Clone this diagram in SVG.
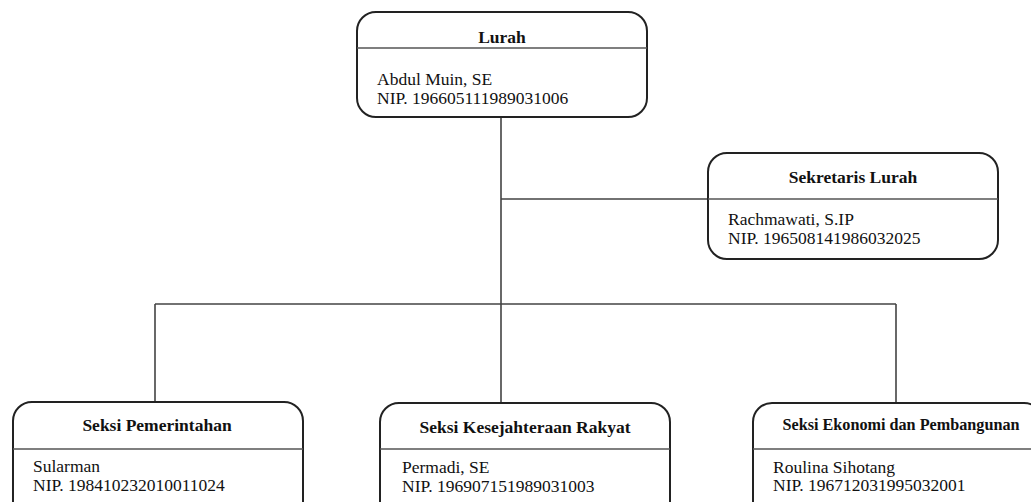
<svg xmlns="http://www.w3.org/2000/svg" width="1031" height="502" viewBox="0 0 1031 502">
<style>
.box{fill:#fff;stroke:#222;stroke-width:2}
.div{stroke:#555;stroke-width:1.6}
.conn{stroke:#444;stroke-width:1.6;fill:none}
.t{font-family:"Liberation Serif","Times New Roman",serif;font-weight:bold;font-size:17.5px;fill:#111;text-anchor:middle}
.b{font-family:"Liberation Serif","Times New Roman",serif;font-size:17.5px;fill:#111}
</style>
<rect width="1031" height="502" fill="#fff"/>
<g id="connectors">
<path class="conn" d="M501 117V304M501 199H708M155 304H896M155 304V402M501 304V403M896 304V403"/>
</g>
<g id="lurah">
<rect class="box" x="357" y="12" width="290" height="105" rx="19"/>
<line class="div" x1="357" y1="48" x2="647" y2="48"/>
<text class="t" x="502" y="43">Lurah</text>
<text class="b" x="377" y="85">Abdul Muin, SE</text>
<text class="b" x="377" y="104">NIP. 196605111989031006</text>
</g>
<g id="sekretaris">
<rect class="box" x="708" y="153" width="290" height="106" rx="19"/>
<line class="div" x1="708" y1="199" x2="998" y2="199"/>
<text class="t" x="853" y="183">Sekretaris Lurah</text>
<text class="b" x="728" y="225">Rachmawati, S.IP</text>
<text class="b" x="728" y="244">NIP. 196508141986032025</text>
</g>
<g id="pemerintahan">
<rect class="box" x="13" y="402" width="290" height="120" rx="19"/>
<line class="div" x1="13" y1="449" x2="303" y2="449"/>
<text class="t" x="157" y="431">Seksi Pemerintahan</text>
<text class="b" x="33" y="472">Sularman</text>
<text class="b" x="33" y="491">NIP. 198410232010011024</text>
</g>
<g id="kesra">
<rect class="box" x="380" y="403" width="290" height="120" rx="19"/>
<line class="div" x1="380" y1="449" x2="670" y2="449"/>
<text class="t" x="525" y="433">Seksi Kesejahteraan Rakyat</text>
<text class="b" x="402" y="473">Permadi, SE</text>
<text class="b" x="402" y="492">NIP. 196907151989031003</text>
</g>
<g id="ekonomi">
<rect class="box" x="753" y="403" width="290" height="120" rx="19"/>
<line class="div" x1="753" y1="449" x2="1043" y2="449"/>
<text class="t" x="901" y="430" style="font-size:16.2px">Seksi Ekonomi dan Pembangunan</text>
<text class="b" x="773" y="473">Roulina Sihotang</text>
<text class="b" x="773" y="491">NIP. 196712031995032001</text>
</g>
</svg>
